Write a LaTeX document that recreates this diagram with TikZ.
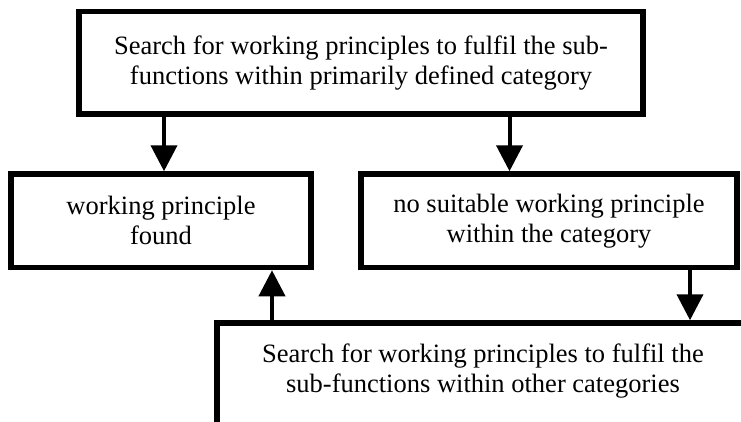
\documentclass[tikz,border=0pt]{standalone}
\usepackage{fontspec}
\setmainfont{Liberation Serif}
\usetikzlibrary{arrows.meta}
\begin{document}
\begin{tikzpicture}[x=1pt,y=-1pt,
  txt/.style={font=\fontsize{26.5}{30}\selectfont, align=center},
  box/.style={draw, rectangle, line width=5.5pt, inner sep=0pt, txt},
  lbl/.style={inner sep=0pt, txt},
  flow/.style={line width=4pt, -{Triangle[length=26pt,width=26pt]}}]
\useasboundingbox (0,0) rectangle (741,421);
\clip (0,0) rectangle (741,421);

% boxes
\node[box, minimum width=564pt, minimum height=102.5pt] (search) at (361,62.75)
  {Search for working principles to fulfil the sub-\\functions within primarily defined category};
\node[box, minimum width=300pt, minimum height=93.5pt] (found) at (161,220.75)
  {working principle\\found};
\node[box, minimum width=376pt, minimum height=93.5pt] (none) at (549,220.75)
  {no suitable working principle\\within the category};
\node[box, minimum width=532pt, minimum height=160pt] (other) at (483,403) {};
\node[lbl] (otherlabel) at (483,371)
  {Search for working principles to fulfil the\\sub-functions within other categories};

% connector columns
\coordinate (xa) at (164,0);
\coordinate (xb) at (509.5,0);
\coordinate (xc) at (690,0);
\coordinate (xd) at (272,0);

% connectors
\draw[flow] (search.south -| xa) -- (found.north -| xa);
\draw[flow] (search.south -| xb) -- (none.north -| xb);
\draw[flow] (none.south -| xc) -- (other.north -| xc);
\draw[flow] (other.north -| xd) -- (found.south -| xd);
\end{tikzpicture}
\end{document}
